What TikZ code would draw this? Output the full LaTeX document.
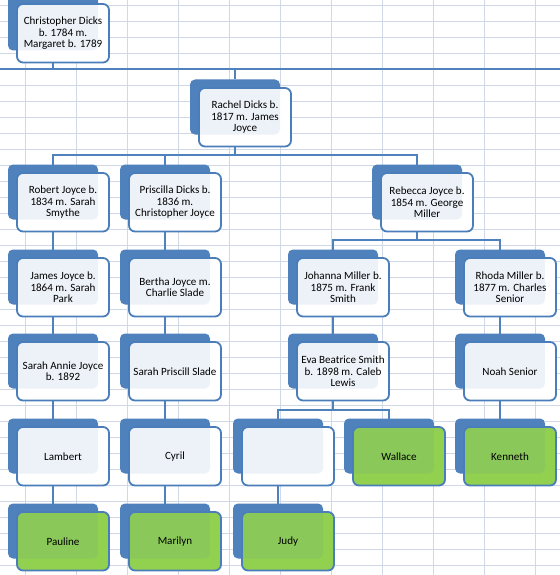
\documentclass[tikz,border=0pt]{standalone}
\usepackage{fontspec}
\setmainfont{Carlito}
\definecolor{tabblue}{HTML}{4F81BD}
\definecolor{edgeblue}{HTML}{4A7EBB}
\definecolor{leafgreen}{HTML}{92D050}
\definecolor{gridc}{HTML}{D0D7E5}
\pgfdeclarelayer{gridlayer}
\pgfdeclarelayer{connlayer}
\pgfsetlayers{gridlayer,connlayer,main}
\tikzset{
 tabbox/.style={fill=tabblue, draw=none, rounded corners=5bp, minimum width=90bp, minimum height=55bp, anchor=north west, inner sep=0pt, outer sep=0pt},
 underlay/.style={draw=none, rounded corners=6bp, minimum width=92bp, minimum height=58.5bp, anchor=north west, inner sep=0pt, outer sep=0pt},
 frontbox/.style={fill opacity=0.9, text opacity=1, draw=edgeblue, line width=1.8bp, rounded corners=6bp, minimum width=92bp, minimum height=58.5bp, anchor=north west, inner sep=0pt, outer sep=0pt, align=center, font=\fontsize{11.1}{11.8}\selectfont},
 conn/.style={draw=tabblue, line width=2bp},
 gridline/.style={draw=gridc, line width=0.9bp}
}
\newcommand\famnode[5][white]{%
  \node[underlay, fill=#1] (#2U) at (#3,#4) {};
  \node[tabbox] (#2T) at (#3-9,#4-8.5) {};
  \node[frontbox, fill=#1] (#2) at (#3,#4) {#5};
}
\begin{document}
\begin{tikzpicture}[x=1bp,y=-1bp]
\useasboundingbox (0,0) rectangle (560,575);
\begin{pgfonlayer}{gridlayer}
\fill[white] (0,0) rectangle (560,575);
\foreach \k in {0,...,10} \draw[gridline] (25.3+51*\k,0) -- (25.3+51*\k,575);
\foreach \k in {0,...,35} \draw[gridline] (0,5+16*\k) -- (560,5+16*\k);
\end{pgfonlayer}

\famnode{chris}{17}{4}{Christopher Dicks\\b. 1784 m.\\Margaret b. 1789}
\famnode{rachel}{199}{88}{Rachel Dicks b.\\1817 m. James\\Joyce}
\famnode{robert}{17}{173}{Robert Joyce b.\\1834 m. Sarah\\Smythe}
\famnode{priscilla}{129}{173}{Priscilla Dicks b.\\1836 m.\\Christopher Joyce}
\famnode{rebecca}{381}{173}{Rebecca Joyce b.\\1854 m. George\\Miller}
\famnode{james}{17}{258}{James Joyce b.\\1864 m. Sarah\\Park}
\famnode{bertha}{129}{258}{Bertha Joyce m.\\Charlie Slade}
\famnode{johanna}{297}{258}{Johanna Miller b.\\1875 m. Frank\\Smith}
\famnode{rhoda}{464}{258}{Rhoda Miller b.\\1877 m. Charles\\Senior}
\famnode{sarahA}{17}{342}{Sarah Annie Joyce\\b. 1892}
\famnode{sarahP}{129}{342}{Sarah Priscill Slade}
\famnode{eva}{297}{342}{Eva Beatrice Smith\\b. 1898 m. Caleb\\Lewis}
\famnode{noah}{464}{342}{Noah Senior}
\famnode{lambert}{17}{427}{Lambert}
\famnode{cyril}{129}{427}{Cyril}
\famnode{unnamed}{242}{427}{}
\famnode[leafgreen]{wallace}{353}{427}{Wallace}
\famnode[leafgreen]{kenneth}{464}{427}{Kenneth}
\famnode[leafgreen]{pauline}{17}{512}{Pauline}
\famnode[leafgreen]{marilyn}{129}{512}{Marilyn}
\famnode[leafgreen]{judy}{242}{512}{Judy}

\coordinate (topL) at (0,69);
\coordinate (topR) at (560,69);
\coordinate (busA) at (0,155);
\coordinate (busB) at (0,240);
\coordinate (busC) at (0,410);

\begin{pgfonlayer}{connlayer}
\draw[conn] (topL) -- (topR);
\draw[conn] (chrisT.center |- chris.south) -- (chrisT.center |- topL);
\draw[conn] (rachelT.center |- topL) -- (rachelT.north);
\foreach \c in {robert,priscilla,rebecca}
  \draw[conn] (rachelT.center |- rachel.south) |- (busA -| \c T.center) -- (\c T.north);
\foreach \c in {johanna,rhoda}
  \draw[conn] (rebeccaT.center |- rebecca.south) |- (busB -| \c T.center) -- (\c T.north);
\foreach \c in {unnamed,wallace}
  \draw[conn] (evaT.center |- eva.south) |- (busC -| \c T.center) -- (\c T.north);
\foreach \p/\c in {robert/james,priscilla/bertha,james/sarahA,bertha/sarahP,sarahA/lambert,sarahP/cyril,lambert/pauline,cyril/marilyn,johanna/eva,rhoda/noah,noah/kenneth,unnamed/judy}
  \draw[conn] (\p T.center |- \p.south) -- (\c T.north);
\end{pgfonlayer}
\end{tikzpicture}
\end{document}
